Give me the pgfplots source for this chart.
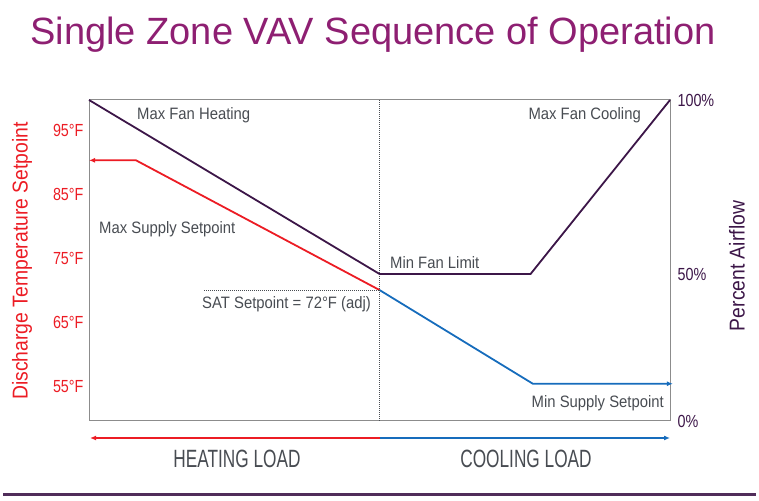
\documentclass[border=0pt]{standalone}
\usepackage{pgfplots}
\pgfplotsset{compat=1.18}
\usetikzlibrary{arrows.meta}
\usepackage{fontspec}
\setmainfont{Liberation Sans}
\newfontfamily\cond[FakeStretch=0.9]{Liberation Sans}
\newfontfamily\tickfont[FakeStretch=0.82]{Liberation Sans}
\newfontfamily\wide[FakeStretch=0.69]{Liberation Sans}

\definecolor{ttl}{RGB}{142,31,114}
\definecolor{hot}{RGB}{236,28,36}
\definecolor{cold}{RGB}{22,108,188}
\definecolor{fan}{RGB}{60,22,72}
\definecolor{txt}{RGB}{72,76,82}
\definecolor{frame}{RGB}{140,140,140}

\begin{document}
\begin{tikzpicture}[x=1pt,y=1pt]
\path[use as bounding box] (0,0) rectangle (759,500);

% title
\node[anchor=base,text=ttl,inner sep=0] at (373,455) {\fontsize{38}{38}\selectfont Single Zone VAV Sequence of Operation};

% temperature axis (left)
\begin{axis}[
  at={(89pt,79pt)}, anchor=south west,
  width=581pt, height=321pt, scale only axis,
  xmin=0, xmax=100, ymin=49.7, ymax=99.7,
  xtick=\empty,
  ytick={55,65,75,85,95},
  yticklabels={55°F,65°F,75°F,85°F,95°F},
  major tick length=0pt,
  yticklabel style={text=hot, font=\tickfont\fontsize{17.5}{17.5}\selectfont, xshift=-2pt},
  axis line style={draw=frame, line width=1pt},
  clip=false]
  \addplot[hot, line width=1.8pt, {Latex[length=6pt,width=5pt]}-] coordinates {(0,90.3) (8.1,90.3) (50,70.1)};
  \addplot[cold, line width=1.8pt, -{Latex[length=6pt,width=5pt]}] coordinates {(50,70.1) (76.4,55.5) (100.5,55.5)};
  \addplot[txt, line width=1pt, densely dotted] coordinates {(19.8,70.1) (50,70.1)};
  \addplot[txt, line width=1pt, densely dotted] coordinates {(50,49.7) (50,99.7)};
\end{axis}

% airflow axis (right)
\begin{axis}[
  at={(89pt,79pt)}, anchor=south west,
  width=581pt, height=321pt, scale only axis,
  xmin=0, xmax=100, ymin=0, ymax=100,
  xtick=\empty,
  ytick={0,45.5,100},
  yticklabels={0\%,50\%,100\%},
  yticklabel pos=right,
  major tick length=0pt,
  yticklabel style={text=fan, font=\tickfont\fontsize{17.5}{17.5}\selectfont, xshift=4pt},
  axis line style={draw=none},
  clip=false]
  \addplot[fan, line width=1.8pt] coordinates {(0,100) (50,45.8) (76,45.8) (100,100)};
\end{axis}

% axis titles
\node[rotate=90,text=hot,inner sep=0] at (22,239) {\cond\fontsize{21.5}{21.5}\selectfont Discharge Temperature Setpoint};
\node[rotate=90,text=fan,inner sep=0] at (737,234) {\cond\fontsize{21.5}{21.5}\selectfont Percent Airflow};

% annotations
\begin{scope}[every node/.style={text=txt,inner sep=0,font=\cond\fontsize{16.5}{16.5}\selectfont}]
\node[anchor=west] at (137,385) {Max Fan Heating};
\node[anchor=east] at (641,385) {Max Fan Cooling};
\node[anchor=west] at (99,271) {Max Supply Setpoint};
\node[anchor=west] at (390,237) {Min Fan Limit};
\node[anchor=west] at (202,196) {SAT Setpoint = 72°F (adj)};
\node[anchor=east] at (664,97) {Min Supply Setpoint};
\end{scope}

% load arrows
\draw[hot, line width=1.8pt, {Latex[length=6pt,width=5pt]}-] (90,62) -- (380,62);
\draw[cold, line width=1.8pt, -{Latex[length=6pt,width=5pt]}] (380,62) -- (670,62);
\node[text=txt,inner sep=0] at (237,41) {\wide\fontsize{25}{25}\selectfont HEATING LOAD};
\node[text=txt,inner sep=0] at (526,41) {\wide\fontsize{25}{25}\selectfont COOLING LOAD};

% footer rule
\draw[fan!90!white, line width=3pt] (3,6) -- (756,6);
\end{tikzpicture}
\end{document}
